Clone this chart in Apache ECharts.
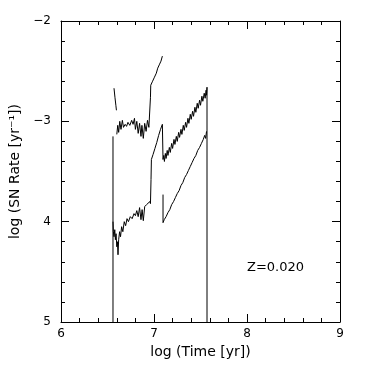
<!DOCTYPE html>
<html><head><meta charset="utf-8">
<script src="https://cdn.jsdelivr.net/npm/echarts@6/dist/echarts.min.js"></script>
<style>html,body{margin:0;padding:0;background:#fff}#c{width:368px;height:368px}</style>
</head><body><div id="c"></div>
<script>
const xTicks = [6, 7, 8, 9];
const yTickLabels = {'-2': '\u22122', '-3': '\u22123', '-4': '4', '-5': '5'};
const xTitle = 'log (Time [yr])';
const yTitle = 'log (SN Rate [yr\u207B\u00B9])';
const noteText = 'Z=0.020';

const topStart = [[6.570,-2.67],[6.580,-2.76],[6.590,-2.84],[6.596,-2.89]];
const topMain = [[6.600,-3.13],[6.610,-3.04],[6.620,-3.11],[6.632,-3.00],[6.645,-3.08],[6.660,-2.99],[6.672,-3.06],[6.690,-3.03],[6.705,-3.05],[6.720,-3.01],[6.740,-3.04],[6.760,-2.99],[6.775,-3.03],[6.790,-2.97],[6.800,-3.08],[6.815,-3.00],[6.830,-3.12],[6.845,-3.02],[6.860,-3.15],[6.870,-3.04],[6.885,-3.17],[6.900,-3.02],[6.915,-3.10],[6.930,-2.99],[6.945,-3.06],[6.962,-2.76],[6.965,-2.64],[6.985,-2.60],[7.005,-2.56],[7.025,-2.52],[7.040,-2.47],[7.060,-2.43],[7.075,-2.40],[7.090,-2.35]];
const leftEdge = [[6.559,-5.0],[6.559,-3.15]];
const lowerLeftToMiddle = [[6.559,-4.00],[6.563,-4.10],[6.570,-4.15],[6.578,-4.08],[6.585,-4.18],[6.592,-4.12],[6.600,-4.25],[6.607,-4.20],[6.613,-4.33],[6.620,-4.18],[6.630,-4.10],[6.640,-4.15],[6.652,-4.05],[6.665,-4.10],[6.680,-4.00],[6.695,-4.04],[6.710,-3.97],[6.725,-4.00],[6.745,-3.95],[6.765,-3.97],[6.785,-3.92],[6.800,-3.94],[6.815,-3.89],[6.830,-3.95],[6.845,-3.86],[6.860,-3.98],[6.872,-3.88],[6.885,-3.99],[6.900,-3.85],[6.920,-3.83],[6.940,-3.82],[6.955,-3.80],[6.962,-3.82],[6.968,-3.58],[6.972,-3.38],[6.990,-3.33],[7.010,-3.27],[7.030,-3.21],[7.050,-3.14],[7.070,-3.08],[7.090,-3.03],[7.097,-3.02],[7.097,-3.38],[7.105,-3.34],[7.112,-3.40],[7.122,-3.32],[7.130,-3.37],[7.142,-3.29],[7.150,-3.34],[7.165,-3.26],[7.175,-3.31],[7.190,-3.22],[7.200,-3.27],[7.215,-3.18],[7.225,-3.23],[7.240,-3.15],[7.250,-3.20],[7.265,-3.11],[7.275,-3.16],[7.290,-3.08],[7.300,-3.13],[7.315,-3.04],[7.325,-3.09],[7.340,-3.01],[7.350,-3.06],[7.365,-2.97],[7.375,-3.02],[7.390,-2.93],[7.400,-2.98],[7.415,-2.90],[7.425,-2.95],[7.440,-2.86],[7.450,-2.91],[7.465,-2.82],[7.475,-2.87],[7.490,-2.79],[7.500,-2.84],[7.515,-2.75],[7.525,-2.80],[7.540,-2.72],[7.550,-2.77],[7.560,-2.69],[7.565,-2.74],[7.570,-2.66],[7.570,-5.0]];
const lowerRight = [[7.097,-3.73],[7.097,-4.01],[7.110,-3.98],[7.130,-3.95],[7.150,-3.91],[7.170,-3.88],[7.190,-3.83],[7.210,-3.80],[7.230,-3.76],[7.250,-3.72],[7.270,-3.69],[7.290,-3.64],[7.310,-3.61],[7.330,-3.56],[7.350,-3.53],[7.370,-3.49],[7.390,-3.45],[7.410,-3.41],[7.430,-3.37],[7.450,-3.34],[7.470,-3.29],[7.490,-3.26],[7.510,-3.22],[7.530,-3.18],[7.545,-3.14],[7.555,-3.17],[7.565,-3.10]];

const FONT = 'DejaVu Sans';
const chart = echarts.init(document.getElementById('c'));
const segs = [topStart, topMain, leftEdge, lowerLeftToMiddle, lowerRight];
function axisBase(pos, showLabel) {
  return {
    type: 'value', position: pos, min: 0, max: 0, interval: 1,
    axisLine: {show: true, lineStyle: {color: '#000', width: 1}},
    axisTick: {show: true, inside: true, length: 8, lineStyle: {color: '#000', width: 1}},
    minorTick: {show: true, splitNumber: 5, length: 4, lineStyle: {color: '#000', width: 1}},
    splitLine: {show: false},
    axisLabel: {show: showLabel, color: '#000', fontFamily: FONT, fontSize: 12}
  };
}
const xb = Object.assign(axisBase('bottom', true), {min: xTicks[0], max: xTicks[xTicks.length-1],
  name: xTitle, nameLocation: 'middle', nameGap: 22, nameTextStyle: {color: '#000', fontFamily: FONT, fontSize: 14},
  axisLabel: {show: true, color: '#000', fontFamily: FONT, fontSize: 12, margin: 6}});
const xt = Object.assign(axisBase('top', false), {min: xTicks[0], max: xTicks[xTicks.length-1]});
const yl = Object.assign(axisBase('left', true), {min: -5, max: -2,
  name: yTitle, nameLocation: 'middle', nameGap: 33, nameTextStyle: {color: '#000', fontFamily: FONT, fontSize: 14},
  axisLabel: {show: true, color: '#000', fontFamily: FONT, fontSize: 12, margin: 10, formatter: v => yTickLabels[String(v)] || String(v)}});
const yr = Object.assign(axisBase('right', false), {min: -5, max: -2});
chart.setOption({
  animation: false,
  backgroundColor: '#fff',
  grid: {left: 61, right: 28, top: 21, bottom: 46},
  xAxis: [xb, xt],
  yAxis: [yl, yr],
  graphic: [{type: 'text', left: 247, top: 261, style: {text: noteText, fill: '#000', font: '13px ' + FONT}}],
  series: segs.map(d => ({type: 'line', data: d, showSymbol: false, symbol: 'none',
    lineStyle: {color: '#000', width: 1}, xAxisIndex: 0, yAxisIndex: 0}))
});
</script></body></html>
